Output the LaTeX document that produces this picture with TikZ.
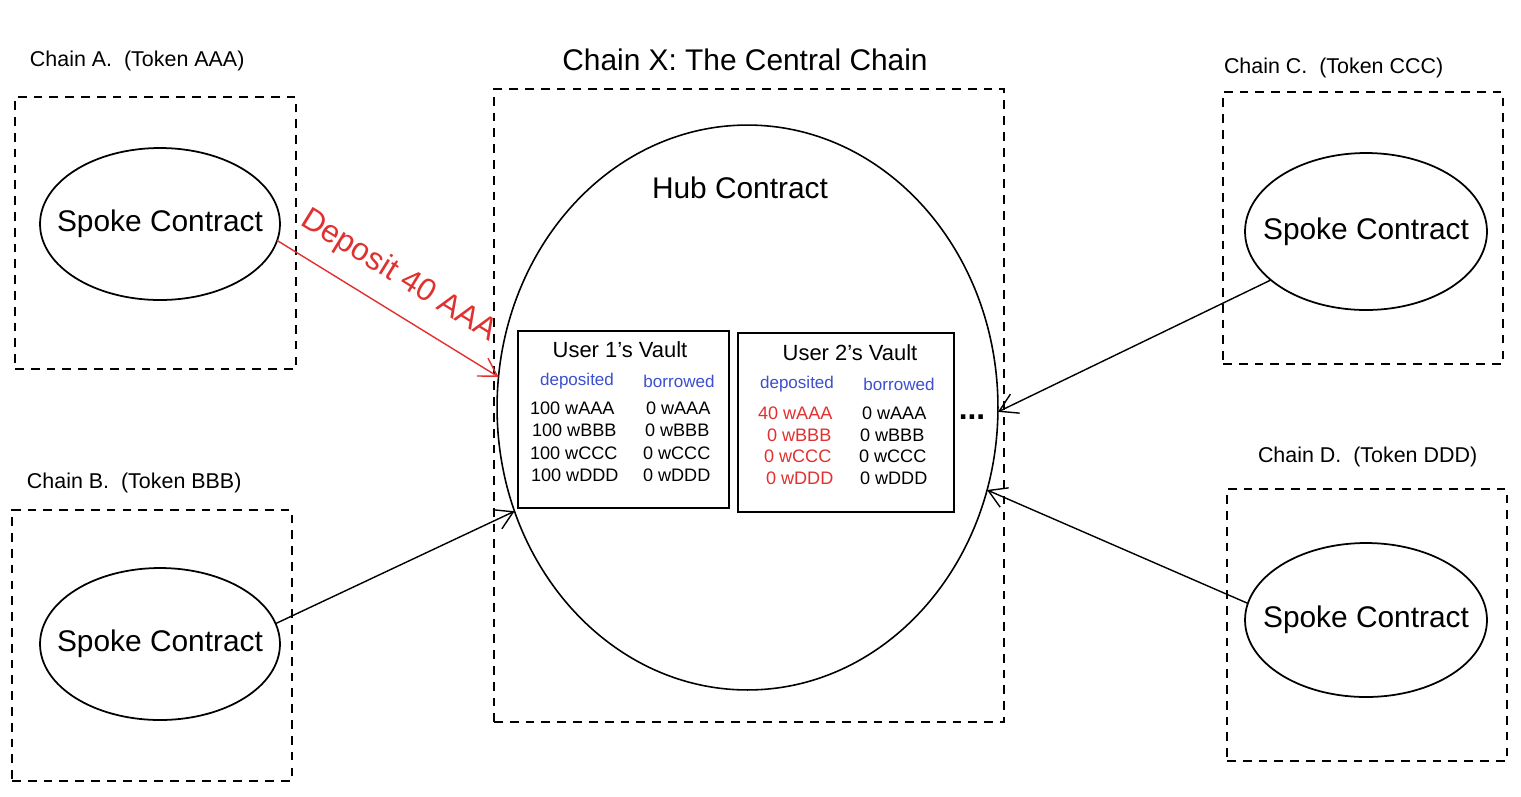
\documentclass[tikz,border=0pt]{standalone}
\usepackage{fontspec}
\setmainfont{Liberation Sans}
\usetikzlibrary{shapes.geometric,arrows.meta}
\definecolor{dred}{HTML}{E03131}
\definecolor{dblue}{HTML}{3B4FD0}
\begin{document}
\begin{tikzpicture}[x=0.02cm,y=-0.02cm,
  chainbox/.style={draw, dash pattern=on 5pt off 4pt, line width=0.7pt, inner sep=0pt, outer sep=0pt},
  spoke/.style={draw, ellipse, line width=1pt, inner sep=0pt, outer sep=0pt, font=\fontsize{17}{20}\selectfont},
  vault/.style={draw, rectangle, line width=1pt, inner sep=0pt, outer sep=0pt},
  txt/.style={inner sep=0pt, outer sep=0pt},
  chainlbl/.style={txt, anchor=west, font=\fontsize{12.2}{14}\selectfont},
  big/.style={txt, font=\fontsize{17}{20}\selectfont},
  vtitle/.style={txt, font=\fontsize{12.5}{15}\selectfont},
  vhead/.style={txt, text=dblue, font=\fontsize{9.7}{12}\selectfont},
  vrow/.style={txt, anchor=base west, font=\fontsize{10.3}{12}\selectfont},
  conn/.style={-{Straight Barb[length=10pt,width=12pt]}, line width=0.8pt},
]
\useasboundingbox (0,0) rectangle (1521,796);

% chain boxes
\node[chainbox, minimum width=5.62cm, minimum height=5.44cm] (boxA) at (155.5,233) {};
\node[chainbox, minimum width=5.60cm, minimum height=5.42cm] (boxB) at (152,645.5) {};
\node[chainbox, minimum width=5.60cm, minimum height=5.44cm] (boxC) at (1363,228) {};
\node[chainbox, minimum width=5.60cm, minimum height=5.44cm] (boxD) at (1367,625) {};
\node[chainbox, minimum width=10.2cm, minimum height=12.66cm] (boxX) at (749,405.5) {};

% labels
\node[chainlbl] (lblA) at (30,61) {Chain A.\ \ (Token AAA)};
\node[chainlbl] (lblB) at (27,483) {Chain B.\ \ (Token BBB)};
\node[chainlbl] (lblC) at (1224,68) {Chain C.\ \ (Token CCC)};
\node[chainlbl] (lblD) at (1258,457) {Chain D.\ \ (Token DDD)};
\node[big] (lblX) at (745,60) {Chain X: The Central Chain};

% spokes
\node[spoke, minimum width=4.8cm, minimum height=3.04cm] (spokeA) at (160,224) {\makebox[0pt]{Spoke Contract}};
\node[spoke, minimum width=4.8cm, minimum height=3.04cm] (spokeB) at (160,644) {\makebox[0pt]{Spoke Contract}};
\node[spoke, minimum width=4.84cm, minimum height=3.14cm] (spokeC) at (1366,231.5) {\makebox[0pt]{Spoke Contract}};
\node[spoke, minimum width=4.84cm, minimum height=3.08cm] (spokeD) at (1366,620) {\makebox[0pt]{Spoke Contract}};

% hub
\node[draw, ellipse, line width=0.9pt, inner sep=0pt, outer sep=0pt, minimum width=10.02cm, minimum height=11.3cm] (hub) at (747.5,407.5) {};
\node[big] (hubt) at (740,188) {Hub Contract};

% vaults
\node[vault, fill=white, minimum width=4.22cm, minimum height=3.54cm] (v1) at (623.5,419.5) {};
\node[vault, fill=white, minimum width=4.32cm, minimum height=3.58cm] (v2) at (846,422.5) {};

\node[vtitle] (v1t) at (620,350) {User 1's Vault};
\node[vhead] (v1hd) at (577,381) {deposited};
\node[vhead] (v1hb) at (679,381) {borrowed};
\node[vrow] (v1a) at (530,414) {100 wAAA};
\node[vrow] (v1b) at (532,436) {100 wBBB};
\node[vrow] (v1c) at (530,459) {100 wCCC};
\node[vrow] (v1d) at (531,481) {100 wDDD};
\node[vrow] (v1e) at (646,414) {0 wAAA};
\node[vrow] (v1f) at (645,436) {0 wBBB};
\node[vrow] (v1g) at (643,459) {0 wCCC};
\node[vrow] (v1h) at (643,481) {0 wDDD};

\node[vtitle] (v2t) at (850,353) {User 2's Vault};
\node[vhead] (v2hd) at (797,384) {deposited};
\node[vhead] (v2hb) at (899,384) {borrowed};
\node[vrow, text=dred] (v2a) at (758,419) {40 wAAA};
\node[vrow, text=dred] (v2b) at (767,441) {0 wBBB};
\node[vrow, text=dred] (v2c) at (764,462) {0 wCCC};
\node[vrow, text=dred] (v2d) at (766,484) {0 wDDD};
\node[vrow] (v2e) at (862,419) {0 wAAA};
\node[vrow] (v2f) at (860,441) {0 wBBB};
\node[vrow] (v2g) at (859,462) {0 wCCC};
\node[vrow] (v2h) at (860,484) {0 wDDD};

\node[txt, font=\fontsize{18}{20}\selectfont\bfseries] (dots) at (972,417) {...};

% connectors
\draw[conn, dred] (spokeA.-8) -- (hub.173)
  node[pos=0.47, sloped, above=7pt, font=\fontsize{18}{20}\selectfont, text=dred] (deplbl) {Deposit 40 AAA};
\draw[conn] (spokeB.10) -- (hub.204);
\draw[conn] (spokeC.207) -- (hub.-1);
\draw[conn] (spokeD.172) -- (hub.-19);
\end{tikzpicture}
\end{document}
